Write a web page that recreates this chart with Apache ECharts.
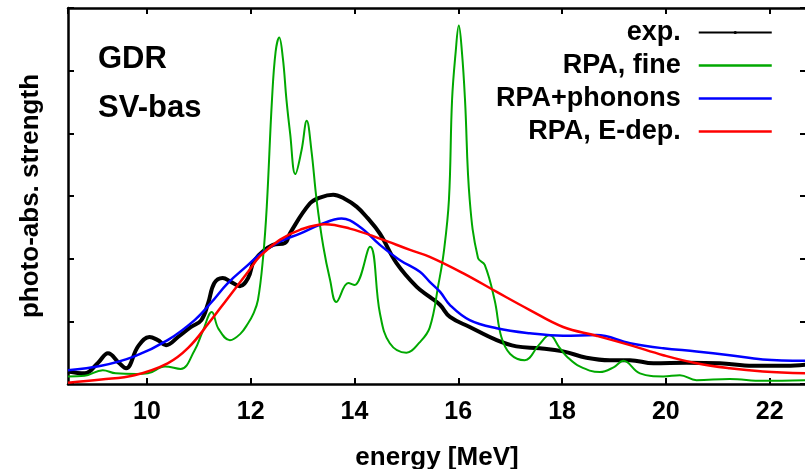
<!DOCTYPE html>
<html>
<head>
<meta charset="utf-8">
<script src="https://cdn.jsdelivr.net/npm/echarts@6/dist/echarts.min.js"></script>
<style>
html, body { margin: 0; padding: 0; background: #fff; }
#chart { width: 805px; height: 469px; }
</style>
</head>
<body>
<div id="chart"></div>
<script>
// 数据
const seriesNames = ['exp.', 'RPA, fine', 'RPA+phonons', 'RPA, E-dep.']

const expE = [8.48, 8.80, 9.06, 9.25, 9.47, 9.60, 9.83, 10.05, 10.21, 10.37, 10.60, 10.85, 11.05, 11.18, 11.30, 11.46, 11.62, 11.79, 11.95, 12.08, 12.43, 12.66, 12.76, 13.14, 13.35, 13.59, 13.80, 14.04, 14.25, 14.49, 14.81, 15.20, 15.45, 15.65, 15.84, 16.22, 16.74, 17.12, 17.57, 18.02, 18.47, 18.92, 19.31, 19.76, 20.40, 21.04, 21.68, 22.33, 22.70]
const expV = [0.20, 0.17, 0.34, 0.49, 0.33, 0.25, 0.60, 0.75, 0.70, 0.62, 0.75, 0.91, 1.02, 1.29, 1.61, 1.69, 1.63, 1.56, 1.69, 1.98, 2.22, 2.25, 2.41, 2.88, 2.98, 3.02, 2.96, 2.83, 2.65, 2.40, 1.93, 1.55, 1.39, 1.26, 1.07, 0.91, 0.70, 0.60, 0.57, 0.52, 0.42, 0.38, 0.38, 0.33, 0.34, 0.33, 0.29, 0.29, 0.31]

const fineE = [8.48, 8.80, 9.15, 9.40, 9.80, 10.02, 10.35, 10.65, 10.92, 11.08, 11.25, 11.38, 11.60, 11.80, 11.95, 12.05, 12.14, 12.24, 12.31, 12.41, 12.48, 12.55, 12.62, 12.69, 12.76, 12.86, 12.98, 13.08, 13.17, 13.27, 13.40, 13.53, 13.65, 13.88, 14.00, 14.30, 14.49, 14.68, 15.00, 15.25, 15.45, 15.62, 15.72, 15.82, 15.88, 15.95, 16.01, 16.07, 16.13, 16.22, 16.38, 16.51, 16.70, 16.83, 17.00, 17.28, 17.55, 17.76, 17.95, 18.09, 18.34, 18.73, 19.00, 19.18, 19.50, 19.95, 20.27, 20.59, 21.23, 21.87, 22.70]
const fineV = [0.12, 0.13, 0.22, 0.17, 0.16, 0.17, 0.28, 0.24, 0.54, 0.85, 1.15, 0.88, 0.70, 0.80, 0.97, 1.12, 1.34, 2.03, 2.83, 4.53, 5.30, 5.53, 5.20, 4.53, 4.00, 3.35, 3.73, 4.20, 3.73, 2.94, 2.19, 1.66, 1.31, 1.61, 1.58, 2.19, 1.13, 0.65, 0.50, 0.66, 0.90, 1.60, 2.10, 2.94, 4.53, 5.30, 5.72, 5.30, 4.53, 2.94, 2.01, 1.90, 1.34, 0.75, 0.48, 0.38, 0.62, 0.78, 0.58, 0.44, 0.28, 0.19, 0.27, 0.37, 0.17, 0.12, 0.14, 0.06, 0.08, 0.05, 0.06]

const phonE = [8.48, 9.12, 9.76, 10.40, 10.92, 11.24, 11.56, 11.95, 12.18, 12.56, 12.95, 13.33, 13.75, 14.10, 14.49, 14.87, 15.26, 15.45, 15.65, 15.84, 16.22, 16.74, 17.38, 18.02, 18.66, 19.31, 19.95, 20.59, 21.23, 21.87, 22.70]
const phonV = [0.22, 0.29, 0.44, 0.70, 1.02, 1.30, 1.61, 1.90, 2.07, 2.27, 2.40, 2.54, 2.64, 2.51, 2.22, 1.98, 1.79, 1.63, 1.47, 1.26, 1.02, 0.89, 0.81, 0.77, 0.78, 0.65, 0.57, 0.52, 0.46, 0.39, 0.37]

const edepE = [8.48, 9.12, 9.76, 10.40, 10.80, 11.20, 11.56, 11.95, 12.18, 12.56, 12.95, 13.43, 13.91, 14.49, 15.07, 15.45, 16.09, 16.74, 17.38, 18.02, 18.66, 19.31, 19.95, 20.59, 21.23, 21.87, 22.70]
const edepV = [0.02, 0.07, 0.14, 0.33, 0.58, 0.98, 1.37, 1.79, 2.04, 2.30, 2.46, 2.55, 2.48, 2.32, 2.14, 2.03, 1.77, 1.47, 1.18, 0.91, 0.77, 0.62, 0.46, 0.33, 0.25, 0.20, 0.17]

function pairs (xs, ys) {
    return xs.map((x, i) => [x, ys[i]])
}

const FONT = 'Liberation Sans, Arial, sans-serif'
const tickStyle = { show: true, inside: true, length: 6, lineStyle: { color: '#000', width: 2 } }
const lineStyleAxis = { show: true, onZero: false, lineStyle: { color: '#000', width: 2.5 } }

let myChart = echarts.init(document.getElementById('chart'), null, { renderer: 'canvas' })
myChart.setOption({
    animation: false,
    backgroundColor: '#fff',
    title: {
        text: 'GDR\nSV-bas',
        left: 98,
        top: 35,
        padding: 0,
        textStyle: { fontFamily: FONT, fontWeight: 'bold', fontSize: 31, lineHeight: 49, color: '#000' }
    },
    legend: {
        orient: 'vertical',
        align: 'right',
        right: 32,
        top: 16,
        padding: 0,
        itemGap: 0,
        itemWidth: 73,
        itemHeight: 4,
        textStyle: { fontFamily: FONT, fontWeight: 'bold', fontSize: 27, lineHeight: 33, color: '#000', padding: [0, 13, 0, 0] },
        lineStyle: { width: 2.5 },
        data: [
            { name: seriesNames[0], lineStyle: { width: 2 } },
            { name: seriesNames[1], itemStyle: { opacity: 0 } },
            { name: seriesNames[2], itemStyle: { opacity: 0 } },
            { name: seriesNames[3], itemStyle: { opacity: 0 } }
        ]
    },
    grid: { left: 68, right: -1, top: 8, bottom: 85, containLabel: false, outerBoundsMode: 'none' },
    xAxis: [{
        type: 'value',
        min: 8.48,
        max: 22.70,
        splitNumber: 7,
        minInterval: 2,
        maxInterval: 2,
        name: 'energy [MeV]',
        nameLocation: 'middle',
        nameGap: 61,
        nameTextStyle: { fontFamily: FONT, fontWeight: 'bold', fontSize: 26, color: '#000' },
        axisLine: lineStyleAxis,
        axisTick: tickStyle,
        splitLine: { show: false },
        axisLabel: {
            showMinLabel: false, showMaxLabel: false, margin: 16,
            fontFamily: FONT, fontWeight: 'bold', fontSize: 25, color: '#000'
        }
    }, {
        type: 'value',
        position: 'top',
        min: 8.48,
        max: 22.70,
        splitNumber: 7,
        minInterval: 2,
        maxInterval: 2,
        axisLine: lineStyleAxis,
        axisTick: tickStyle,
        splitLine: { show: false },
        axisLabel: { show: false }
    }],
    yAxis: [{
        type: 'value',
        min: 0,
        max: 6,
        interval: 1,
        name: 'photo-abs. strength',
        nameLocation: 'middle',
        nameGap: 24,
        nameTextStyle: { fontFamily: FONT, fontWeight: 'bold', fontSize: 26, color: '#000' },
        axisLine: lineStyleAxis,
        axisTick: tickStyle,
        splitLine: { show: false },
        axisLabel: { show: false }
    }, {
        type: 'value',
        position: 'right',
        min: 0,
        max: 6,
        interval: 1,
        axisLine: lineStyleAxis,
        axisTick: tickStyle,
        splitLine: { show: false },
        axisLabel: { show: false }
    }],
    series: [{
        name: seriesNames[0],
        type: 'line',
        data: pairs(expE, expV),
        smooth: 0.4,
        symbol: 'circle',
        symbolSize: 3,
        showSymbol: false,
        itemStyle: { color: '#000' },
        lineStyle: { color: '#000', width: 4 },
        z: 2
    }, {
        name: seriesNames[1],
        type: 'line',
        data: pairs(fineE, fineV),
        smooth: 0.4,
        showSymbol: false,
        itemStyle: { color: '#00a800' },
        lineStyle: { color: '#00a800', width: 2 },
        z: 3
    }, {
        name: seriesNames[2],
        type: 'line',
        data: pairs(phonE, phonV),
        smooth: 0.4,
        showSymbol: false,
        itemStyle: { color: '#0000ff' },
        lineStyle: { color: '#0000ff', width: 2.5 },
        z: 4
    }, {
        name: seriesNames[3],
        type: 'line',
        data: pairs(edepE, edepV),
        smooth: 0.4,
        showSymbol: false,
        itemStyle: { color: '#ff0000' },
        lineStyle: { color: '#ff0000', width: 2.5 },
        z: 5
    }]
})
window.addEventListener('resize', function () {
    myChart.resize()
})
</script>
</body>
</html>
